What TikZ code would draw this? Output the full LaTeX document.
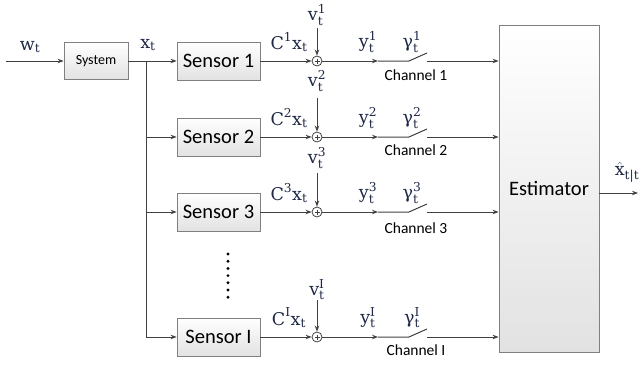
\RequirePackage{fix-cm}
\documentclass[tikz,border=0pt]{standalone}
\usepackage{amsmath}
\usepackage{fontspec}
\setmainfont{Carlito}
\newfontfamily\labfont{DejaVu Serif}
\usetikzlibrary{arrows.meta,calc}
\definecolor{ln}{HTML}{404040}
\definecolor{bd}{HTML}{808080}
\definecolor{mt}{RGB}{30,40,70}
\definecolor{bot}{HTML}{E2E2E2}
\newcommand\tx[1]{\text{#1}}
\tikzset{
 line/.style={draw=ln, line width=1pt},
 arr/.style={line, -{Stealth[length=6pt,width=4.5pt]}},
 blk/.style={draw=bd, line width=0.8pt, top color=white, bottom color=bot, inner sep=0},
 sensorbox/.style={blk, minimum width=83pt, minimum height=38pt, font=\fontsize{20.5}{24}\selectfont},
 lbl/.style={text=mt, font=\labfont\fontsize{17.5}{20}\selectfont, inner sep=0},
 chan/.style={font=\fontsize{15.5}{18}\selectfont, text=black, inner sep=0},
 sumc/.style={circle, draw=ln, line width=0.8pt, fill=white, minimum size=10pt, inner sep=0},
}
\begin{document}
\begin{tikzpicture}[x=1pt,y=-1pt]
\useasboundingbox (0,0) rectangle (643,367);
% system
\node[blk, minimum width=64pt, minimum height=37pt, font=\fontsize{14}{16}\selectfont] (sys) at (96,61) {System};
\coordinate (win) at (6,61);
\draw[arr] (win) -- (sys.west);
\node[lbl] (w) at (30,47) {$\tx{w}_{\tx{t}}$};
\node[lbl] (xt) at (148,45) {$\tx{x}_{\tx{t}}$};
% estimator
\node[blk, minimum width=100pt, minimum height=327pt, font=\fontsize{20.5}{24}\selectfont] (est) at (549,188.5) {\raisebox{-5pt}{Estimator}};
\coordinate (out) at (638,193);
\draw[arr] (est.east |- out) -- (out);
\node[lbl] (xh) at (627,172) {$\hat{\tx{x}}_{\tx{t|t}}$};
% rows
\foreach \i/\y/\s/\vy/\va/\cy in {1/61/1/15/28/14, 2/137/2/81/98/13, 3/212/3/158/173/16, 4/337/I/290/300/13}{
  \node[sensorbox] (s\i) at (218.5,\y) {Sensor \s};
  \coordinate (j\i) at (146,\y);
  \draw[arr] (j\i) -- (s\i.west);
  \node[sumc] (c\i) at (317,\y) {};
  \draw[ln, line width=0.4pt] ($(c\i.center)+(-2.5,0)$) -- ($(c\i.center)+(2.5,0)$)
        ($(c\i.center)+(0,-2.5)$) -- ($(c\i.center)+(0,2.5)$);
  \draw[arr] (s\i.east) -- (c\i.west);
  \node[lbl] (v\i) at (317,\vy) {$\tx{v}_{\tx{t}}^{\tx{\s}}$};
  \coordinate (vs\i) at (317,\va);
  \draw[arr] (vs\i) -- (c\i.north);
  \node[lbl] (C\i) at (289,\y-19) {$\tx{C}^{\tx{\s}}\tx{x}_{\tx{t}}$};
  \coordinate (a\i) at (378,\y);
  \coordinate (sw\i) at (409,\y);
  \coordinate (sx\i) at (427,\y-8);
  \coordinate (so\i) at (427,\y);
  \draw[arr] (c\i.east) -- (a\i);
  \draw[line] (a\i) -- (sw\i) -- (sx\i);
  \draw[arr] (so\i) -- (est.west |- so\i);
  \node[lbl] (y\i) at (368,\y-19) {$\tx{y}_{\tx{t}}^{\tx{\s}}$};
  \node[lbl] (g\i) at (412,\y-19) {$\tx{γ}_{\tx{t}}^{\tx{\s}}$};
  \node[chan] (ch\i) at (416,\y+\cy) {Channel \s};
}
\draw[line] (sys.east) -- (j1);
\draw[line] (j1) -- (j4);
% dots
\foreach \k in {0,...,6} \fill[black] (228,254+7.2*\k) circle (1.6pt);
\end{tikzpicture}
\end{document}
